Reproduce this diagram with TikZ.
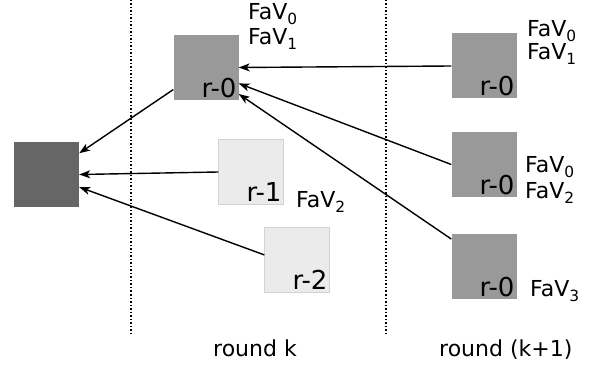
\documentclass[tikz,border=0pt]{standalone}
\usepackage{fontspec}
\setmainfont{DejaVu Sans}
\usetikzlibrary{arrows.meta, positioning}

\definecolor{darkbox}{HTML}{666666}
\definecolor{midbox}{HTML}{999999}
\definecolor{lightbox}{HTML}{EBEBEB}
\definecolor{lightedge}{HTML}{D2D2D2}

\begin{document}
\begin{tikzpicture}[x=1pt, y=-1pt,
        box/.style={minimum width=65pt, minimum height=65pt, inner sep=0pt},
        rank/.style={anchor=base east, font=\fontsize{26}{30}\selectfont, inner sep=0pt, xshift=-2pt, yshift=3pt},
        fav/.style={anchor=base west, font=\fontsize{22}{26}\selectfont, inner sep=0pt},
        msg/.style={line width=1.4pt, -{Stealth[length=11pt, width=8pt, inset=3pt]}},
        sep/.style={line width=1.5pt, dash pattern=on 1.5pt off 2pt}
    ]
        \useasboundingbox (0,0) rectangle (592,366);

        % Round separators
        \coordinate (sepAtop) at (131,0);
        \coordinate (sepAbot) at (131,334);
        \coordinate (sepBtop) at (386,0);
        \coordinate (sepBbot) at (386,334);
        \draw[sep] (sepAtop) -- (sepAbot);
        \draw[sep] (sepBtop) -- (sepBbot);

        % Receiving node
        \node[box, fill=darkbox] (sink) at (46.5,174.5) {};

        % Round k
        \node[box, fill=midbox] (k0) at (206,67.5) {};
        \node[rank] (k0lab) at (k0.south east) {r-0};
        \node[box, fill=lightbox, draw=lightedge] (k1) at (251,172) {};
        \node[rank] (k1lab) at (k1.south east) {r-1};
        \node[box, fill=lightbox, draw=lightedge] (k2) at (297,259.5) {};
        \node[rank] (k2lab) at (k2.south east) {r-2};

        % Round k+1
        \node[box, fill=midbox] (nA) at (484,66) {};
        \node[rank] (nAlab) at (nA.south east) {r-0};
        \node[box, fill=midbox] (nB) at (484,164.5) {};
        \node[rank] (nBlab) at (nB.south east) {r-0};
        \node[box, fill=midbox] (nC) at (484,266.5) {};
        \node[rank] (nClab) at (nC.south east) {r-0};

        % Value labels
        \node[fav] (k0favA) at (248,20) {FaV\textsubscript{0}};
        \node[fav] (k0favB) at (248,45) {FaV\textsubscript{1}};
        \node[fav] (k1fav) at (296,208) {FaV\textsubscript{2}};
        \node[fav] (nAfavA) at (527,37) {FaV\textsubscript{0}};
        \node[fav] (nAfavB) at (527,60) {FaV\textsubscript{1}};
        \node[fav] (nBfavA) at (525,173) {FaV\textsubscript{0}};
        \node[fav] (nBfavB) at (525,199) {FaV\textsubscript{2}};
        \node[fav] (nCfav) at (530,297) {FaV\textsubscript{3}};

        % Round names
        \node[fav] (roundk) at (213,356) {round k};
        \node[fav] (roundk1) at (439,356) {round (k+1)};

        % Messages
        \draw[msg] (nA.west) -- (k0.east);
        \draw[msg] (nB.west) -- (k0.-26);
        \draw[msg] (nC.140) -- (k0.-39);
        \draw[msg] (k0.-146) -- (sink.33);
        \draw[msg] (k1.west) -- (sink.east);
        \draw[msg] (k2.172) -- (sink.-21);
\end{tikzpicture}
\end{document}
